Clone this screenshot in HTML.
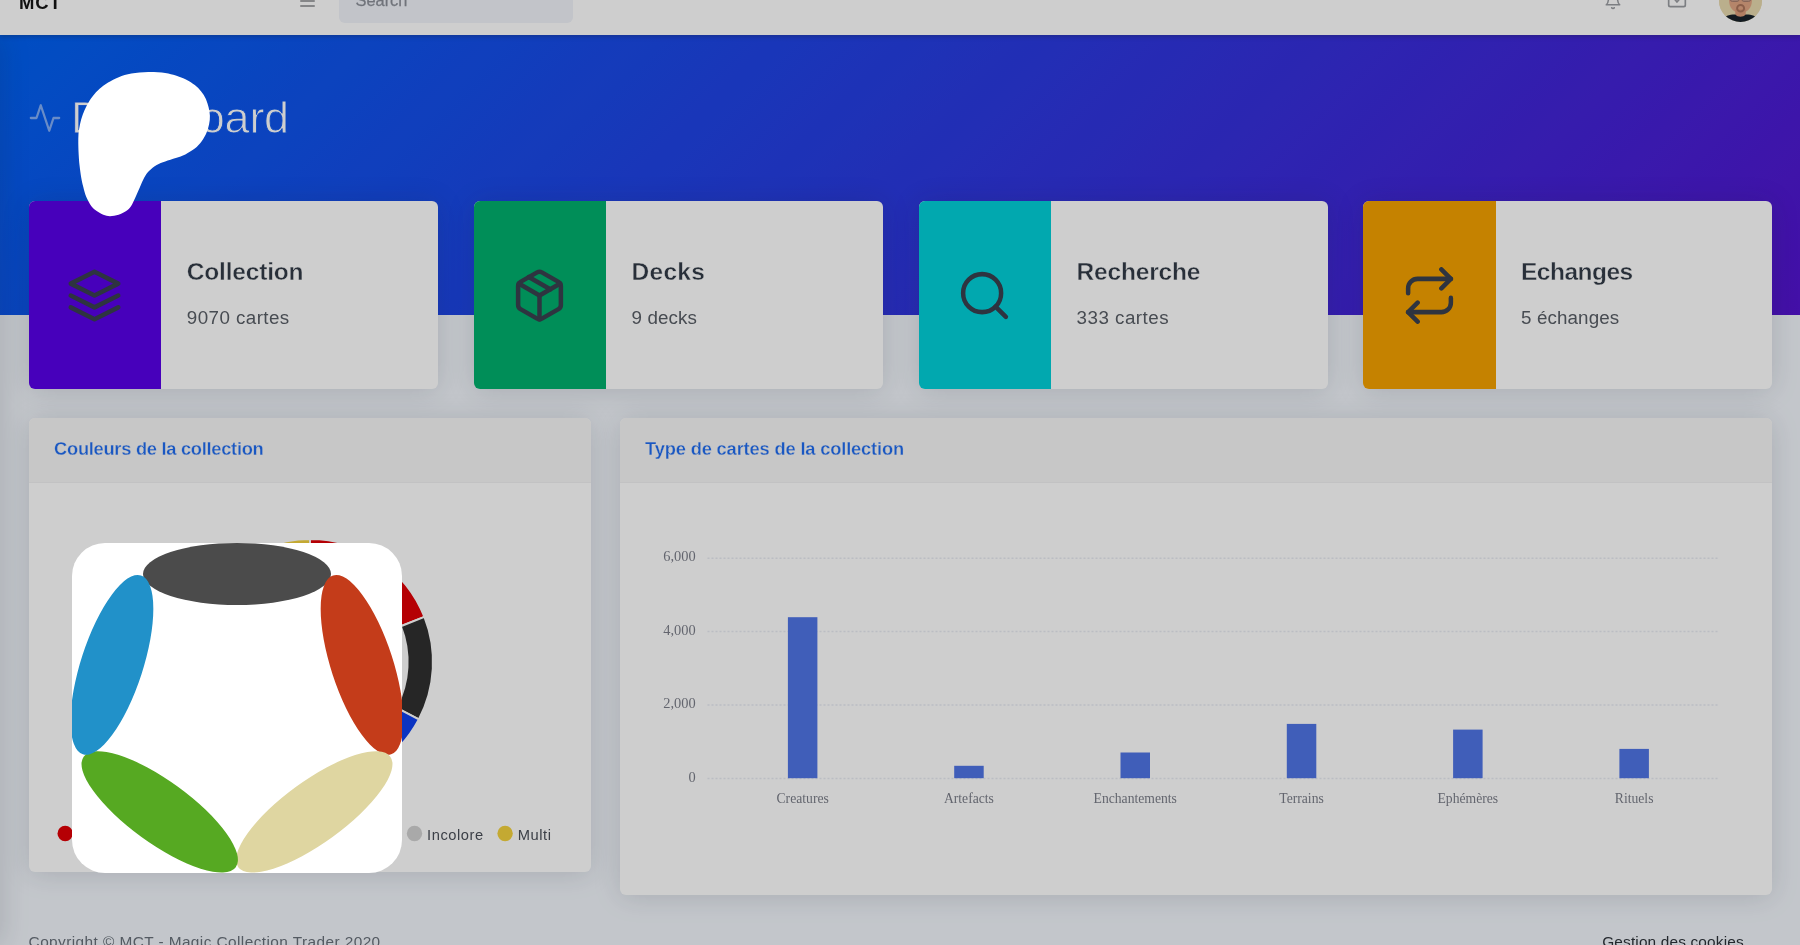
<!DOCTYPE html>
<html lang="fr">
<head>
<meta charset="utf-8">
<title>MCT - Dashboard</title>
<style>
*{box-sizing:border-box;margin:0;padding:0}
html,body{width:1800px;height:945px;overflow:hidden}
body{font-family:"Liberation Sans",sans-serif;background:#f2f6fc;color:#69707a;position:relative}
#page{will-change:transform;position:absolute;left:0;top:0;width:1800px;height:945px;overflow:hidden;background:#f2f6fc}
/* ---------- top nav ---------- */
.topnav{position:absolute;left:0;top:-23px;width:1800px;height:58.4px;background:#fff;box-shadow:0 2px 4px rgba(33,40,50,.25);z-index:3}
.brand{position:absolute;left:19px;top:14.6px;font-weight:700;font-size:18.5px;line-height:21px;color:#161616;letter-spacing:.9px}
.burger{position:absolute;left:299.7px;top:17.6px;width:15.3px;height:12px}
.burger i{position:absolute;left:0;width:15.3px;height:2px;background:#a5a6a9;border-radius:1px}
.search{position:absolute;left:339px;top:0;width:234px;height:45.6px;border-radius:6px;background:#f0f3f9}
.search span{position:absolute;left:16.5px;top:13.9px;font-size:16.4px;line-height:19px;color:#8b8f98;-webkit-text-stroke:.25px #8b8f98}
.navicon{position:absolute}
.avatar{position:absolute;left:1719.3px;top:2.4px;width:43px;height:43px;border-radius:50%;overflow:hidden;background:#e9dcb5}
.sideshadow{position:absolute;left:-30px;top:35px;width:30px;height:910px;box-shadow:2.4px 0 28px rgba(33,40,50,.15);z-index:2}
/* ---------- header ---------- */
.header{position:absolute;left:0;top:35px;width:1800px;height:280px;background:#0061f2 linear-gradient(135deg,#0061f2 0%,rgba(105,0,199,.8) 100%)}
.title{position:absolute;left:71px;top:91.5px;font-size:45px;letter-spacing:-.25px;-webkit-text-stroke:.9px rgb(11,87,238);line-height:52px;color:#fff;font-weight:400;white-space:nowrap}
.title-ico{position:absolute;left:28.4px;top:100.7px}
/* ---------- stat cards ---------- */
.stat{position:absolute;top:201px;width:409px;height:188px;border-radius:6px;background:#fff;box-shadow:0 2px 28px rgba(33,40,50,.15);overflow:hidden}
.stat .ico{position:absolute;left:0;top:0;width:132px;height:188px;display:flex;align-items:center;justify-content:center}
.stat h5{position:absolute;left:158px;top:55.9px;font-size:24.5px;line-height:30px;font-weight:700;color:#323b47;white-space:nowrap;-webkit-text-stroke:.4px #fff}
.stat p{position:absolute;left:158px;top:105.5px;font-size:18.8px;line-height:22px;color:#595e66;white-space:nowrap}
/* ---------- cards ---------- */
.card{position:absolute;border-radius:6px;background:#fff;box-shadow:0 2px 28px rgba(33,40,50,.15);overflow:hidden}
.card .hd{position:absolute;left:0;top:0;right:0;height:65.6px;background:#f7f7f7;border-bottom:1px solid #f1f1f2}
.card .hd span{position:absolute;left:25.3px;top:20.6px;font-size:18.3px;letter-spacing:-.28px;line-height:22px;font-weight:700;color:#1f6cf0;white-space:nowrap;-webkit-text-stroke:.3px #f7f7f7}
.foot{position:absolute;top:934.4px;font-size:15.4px;line-height:16px;white-space:nowrap}
/* ---------- overlay ---------- */
#dim{position:absolute;left:0;top:0;width:1800px;height:945px;background:rgba(0,0,0,.193);z-index:10}
#blob{position:absolute;left:0;top:0;z-index:11}
#logo{position:absolute;left:72px;top:543px;width:330px;height:330px;border-radius:33px;background:#fff;overflow:hidden;z-index:12}
</style>
</head>
<body>
<div id="page">

  <div class="header"></div>

  <div class="sideshadow"></div>

  <div class="topnav">
    <div class="brand">MCT</div>
    <div class="burger"><i style="top:0"></i><i style="top:5px"></i><i style="top:10px"></i></div>
    <div class="search"><span>Search</span></div>
    <svg class="navicon" style="left:1603.5px;top:15px" width="18" height="18" viewBox="0 0 24 24" fill="none" stroke="#9a9da2" stroke-width="2" stroke-linecap="round" stroke-linejoin="round"><path d="M18 8A6 6 0 0 0 6 8c0 7-3 9-3 9h18s-3-2-3-9"/><path d="M13.73 21a2 2 0 0 1-3.46 0"/></svg>
    <svg class="navicon" style="left:1667px;top:13.2px" width="20" height="20" viewBox="0 0 24 24" fill="none" stroke="#9a9da2" stroke-width="2" stroke-linecap="round" stroke-linejoin="round"><path d="M4 4h16c1.1 0 2 .9 2 2v12c0 1.1-.9 2-2 2H4c-1.1 0-2-.9-2-2V6c0-1.1.9-2 2-2z"/><polyline points="20,5 12,14.4 4,5"/></svg>
    <div class="avatar"><svg width="43" height="43" viewBox="0 0 43 43" style="filter:blur(.4px)">
      <rect width="43" height="43" fill="#e7d9ae"/>
      <path d="M10 0 L10 21 C10 29 15 34 21.5 34 C28 34 33 29 33 21 L33 0 Z" fill="#e1a584"/>
      <rect x="16.3" y="30" width="10.4" height="9" fill="#dc9c7a"/>
      <path d="M3 43 C5 36.5 11 35.5 16.3 35.6 C19 38.6 24 38.6 26.7 35.6 C32 35.5 38 36.5 40 43 Z" fill="#18222a"/>
      <rect x="11.3" y="13" width="8.8" height="9.4" rx="2" fill="#c9a08f" stroke="#a27b6b" stroke-width="1"/>
      <rect x="22.9" y="13" width="8.8" height="9.4" rx="2" fill="#c9a08f" stroke="#a27b6b" stroke-width="1"/>
      <ellipse cx="21.6" cy="29.3" rx="3.5" ry="3.3" fill="none" stroke="#ab755b" stroke-width="2"/>
      <path d="M8 8 C10 -2 33 -2 35 8 C30 3 13 3 8 8Z" fill="#3a2a22"/>
    </svg></div>
  </div>

  <svg class="title-ico" width="34" height="34" viewBox="0 0 24 24" fill="none" stroke="rgba(255,255,255,.5)" stroke-width="1.6" stroke-linecap="round" stroke-linejoin="round"><polyline points="22 12 18 12 15 21 9 3 6 12 2 12"/></svg>
  <div class="title">Dashboard</div>

  <div class="stat" style="left:28.8px">
    <div class="ico" style="background:#5800e8"><svg width="57" height="57" viewBox="0 0 24 24" fill="none" stroke="#394150" stroke-width="1.9" stroke-linecap="round" stroke-linejoin="round"><polygon points="12 2 2 7 12 12 22 7 12 2"/><polyline points="2 17 12 22 22 17"/><polyline points="2 12 12 17 22 12"/></svg></div>
    <h5 style="letter-spacing:-.19px">Collection</h5><p style="letter-spacing:.43px">9070 cartes</p>
  </div>
  <div class="stat" style="left:473.6px">
    <div class="ico" style="background:#01b06d;width:132.8px"><svg width="57" height="57" viewBox="0 0 24 24" fill="none" stroke="#394150" stroke-width="1.9" stroke-linecap="round" stroke-linejoin="round"><line x1="16.5" y1="9.4" x2="7.5" y2="4.21"/><path d="M21 16V8a2 2 0 0 0-1-1.73l-7-4a2 2 0 0 0-2 0l-7 4A2 2 0 0 0 3 8v8a2 2 0 0 0 1 1.73l7 4a2 2 0 0 0 2 0l7-4A2 2 0 0 0 21 16z"/><polyline points="3.27 6.96 12 12.01 20.73 6.96"/><line x1="12" y1="22.08" x2="12" y2="12"/></svg></div>
    <h5 style="letter-spacing:.27px">Decks</h5><p style="letter-spacing:.1px">9 decks</p>
  </div>
  <div class="stat" style="left:918.6px">
    <div class="ico" style="background:#02d1d9"><svg width="57" height="57" viewBox="0 0 24 24" fill="none" stroke="#394150" stroke-width="1.9" stroke-linecap="round" stroke-linejoin="round"><circle cx="11" cy="11" r="8"/><line x1="21" y1="21" x2="16.65" y2="16.65"/></svg></div>
    <h5 style="letter-spacing:-.19px">Recherche</h5><p style="letter-spacing:.47px">333 cartes</p>
  </div>
  <div class="stat" style="left:1363px">
    <div class="ico" style="background:#f4a100;width:133.2px"><svg width="57" height="57" viewBox="0 0 24 24" fill="none" stroke="#394150" stroke-width="1.9" stroke-linecap="round" stroke-linejoin="round"><polyline points="17 1 21 5 17 9"/><path d="M3 11V9a4 4 0 0 1 4-4h14"/><polyline points="7 23 3 19 7 15"/><path d="M21 13v2a4 4 0 0 1-4 4H3"/></svg></div>
    <h5 style="letter-spacing:-.5px">Echanges</h5><p style="letter-spacing:.12px">5 échanges</p>
  </div>

  <div class="card" style="left:28.8px;top:417.7px;width:562.2px;height:454px">
    <div class="hd"><span>Couleurs de la collection</span></div>
    <svg style="position:absolute;left:0;top:0;filter:blur(.3px)" width="562" height="453" viewBox="0 0 562 453"><path d="M281.00 121.00 A123 123 0 0 1 395.44 198.92 L371.81 208.23 A97.6 97.6 0 0 0 281.00 146.40 Z" fill="#e00005" stroke="#fff" stroke-width="2" stroke-linejoin="round"/><path d="M395.44 198.92 A123 123 0 0 1 389.80 301.37 L367.34 289.52 A97.6 97.6 0 0 0 371.81 208.23 Z" fill="#303030" stroke="#fff" stroke-width="2" stroke-linejoin="round"/><path d="M389.80 301.37 A123 123 0 0 1 270.28 366.53 L272.49 341.23 A97.6 97.6 0 0 0 367.34 289.52 Z" fill="#0e41f0" stroke="#fff" stroke-width="2" stroke-linejoin="round"/><path d="M270.28 366.53 A123 123 0 0 1 165.42 286.07 L189.29 277.38 A97.6 97.6 0 0 0 272.49 341.23 Z" fill="#1f9d3a" stroke="#fff" stroke-width="2" stroke-linejoin="round"/><path d="M165.42 286.07 A123 123 0 0 1 174.48 182.50 L196.48 195.20 A97.6 97.6 0 0 0 189.29 277.38 Z" fill="#f3efe0" stroke="#fff" stroke-width="2" stroke-linejoin="round"/><path d="M174.48 182.50 A123 123 0 0 1 234.92 129.96 L244.44 153.51 A97.6 97.6 0 0 0 196.48 195.20 Z" fill="#d2d2d2" stroke="#fff" stroke-width="2" stroke-linejoin="round"/><path d="M234.92 129.96 A123 123 0 0 1 281.00 121.00 L281.00 146.40 A97.6 97.6 0 0 0 244.44 153.51 Z" fill="#f3d23e" stroke="#fff" stroke-width="2" stroke-linejoin="round"/><circle cx="36.2" cy="415.5" r="7.7" fill="#e00005"/><text x="47.6" y="421.8" font-family="Liberation Sans, sans-serif" font-size="14.7" letter-spacing=".55" fill="#4a4f58">Rouge</text><circle cx="385.5" cy="415.5" r="7.7" fill="#d2d2d2"/><text x="398.1" y="421.8" font-family="Liberation Sans, sans-serif" font-size="14.7" letter-spacing=".55" fill="#4a4f58">Incolore</text><circle cx="476.1" cy="415.5" r="7.7" fill="#f3d23e"/><text x="488.7" y="421.8" font-family="Liberation Sans, sans-serif" font-size="14.7" letter-spacing=".55" fill="#4a4f58">Multi</text></svg>
  </div>

  <div class="card" style="left:619.8px;top:417.7px;width:1152.6px;height:477px">
    <div class="hd"><span style="letter-spacing:-.16px">Type de cartes de la collection</span></div>
    <svg style="position:absolute;left:0;top:0;filter:blur(.6px)" width="1152" height="477" viewBox="0 0 1152 477"><line x1="87.5" y1="140.2" x2="1098.5" y2="140.2" stroke="#e8eaf2" stroke-width="1.5" stroke-dasharray="2 2"/><line x1="87.5" y1="213.5" x2="1098.5" y2="213.5" stroke="#e8eaf2" stroke-width="1.5" stroke-dasharray="2 2"/><line x1="87.5" y1="287.1" x2="1098.5" y2="287.1" stroke="#e8eaf2" stroke-width="1.5" stroke-dasharray="2 2"/><line x1="87.5" y1="360.6" x2="1098.5" y2="360.6" stroke="#e8eaf2" stroke-width="1.5" stroke-dasharray="2 2"/><rect x="167.90" y="199.20" width="29.5" height="161.00" fill="#5075e6"/><text x="182.65" y="384.60" text-anchor="middle" font-family="Liberation Serif, serif" font-size="13.65" fill="#7b7e89">Creatures</text><rect x="334.20" y="347.80" width="29.5" height="12.40" fill="#5075e6"/><text x="348.95" y="384.60" text-anchor="middle" font-family="Liberation Serif, serif" font-size="13.65" fill="#7b7e89">Artefacts</text><rect x="500.50" y="334.50" width="29.5" height="25.70" fill="#5075e6"/><text x="515.25" y="384.60" text-anchor="middle" font-family="Liberation Serif, serif" font-size="13.65" fill="#7b7e89">Enchantements</text><rect x="666.80" y="305.90" width="29.5" height="54.30" fill="#5075e6"/><text x="681.55" y="384.60" text-anchor="middle" font-family="Liberation Serif, serif" font-size="13.65" fill="#7b7e89">Terrains</text><rect x="833.10" y="311.60" width="29.5" height="48.60" fill="#5075e6"/><text x="847.85" y="384.60" text-anchor="middle" font-family="Liberation Serif, serif" font-size="13.65" fill="#7b7e89">Ephémères</text><rect x="999.40" y="330.90" width="29.5" height="29.30" fill="#5075e6"/><text x="1014.15" y="384.60" text-anchor="middle" font-family="Liberation Serif, serif" font-size="13.65" fill="#7b7e89">Rituels</text><text x="75.70" y="143.40" text-anchor="end" font-family="Liberation Serif, serif" font-size="14.4" fill="#7b7e89">6,000</text><text x="75.70" y="216.70" text-anchor="end" font-family="Liberation Serif, serif" font-size="14.4" fill="#7b7e89">4,000</text><text x="75.70" y="290.30" text-anchor="end" font-family="Liberation Serif, serif" font-size="14.4" fill="#7b7e89">2,000</text><text x="75.70" y="363.80" text-anchor="end" font-family="Liberation Serif, serif" font-size="14.4" fill="#7b7e89">0</text></svg>
  </div>

  <div class="foot" style="left:28.6px;color:#69707a;letter-spacing:.42px">Copyright © MCT - Magic Collection Trader 2020</div>
  <div class="foot" style="right:56.2px;color:#2c3138;letter-spacing:.16px">Gestion des cookies</div>

  <div id="dim"></div>

  <svg id="blob" width="1800" height="945" viewBox="0 0 1800 945"><path fill="#fff" d="M148.3 71.9C153.9 71.8 160.6 72.3 165.2 72.9C169.8 73.5 172.3 74.4 175.8 75.6C179.3 76.8 183.2 78.2 186.4 79.8C189.6 81.4 192.3 83.2 194.8 85.1C197.3 87.0 199.3 89.1 201.2 91.4C203.0 93.7 204.7 96.2 205.9 98.9C207.1 101.6 207.9 104.5 208.6 107.3C209.3 110.1 209.8 113.0 209.9 115.8C210.0 118.6 209.7 121.4 209.1 124.2C208.5 127.0 207.7 129.9 206.5 132.7C205.3 135.5 203.6 138.5 201.7 141.2C199.8 143.8 197.5 146.4 194.8 148.6C192.1 150.8 188.5 152.8 185.3 154.4C182.1 156.0 179.2 156.9 175.8 158.1C172.5 159.3 168.4 160.3 165.2 161.5C162.0 162.7 159.4 163.4 156.7 165.0C154.0 166.6 151.1 168.9 149.0 171.0C146.9 173.1 145.8 174.9 144.3 177.6C142.8 180.3 141.4 183.9 140.0 187.1C138.6 190.3 137.2 193.5 135.7 196.7C134.2 199.9 132.6 203.8 131.0 206.2C129.4 208.6 128.3 209.6 126.2 211.0C124.1 212.4 121.3 213.9 118.6 214.8C115.9 215.7 112.5 216.2 110.0 216.2C107.5 216.2 105.5 215.7 103.3 214.8C101.1 213.9 98.7 212.4 96.7 211.0C94.7 209.6 93.2 208.6 91.4 206.2C89.7 203.8 87.6 199.9 86.2 196.7C84.8 193.5 84.1 190.3 83.3 187.1C82.5 183.9 81.8 181.3 81.2 177.6C80.6 173.9 79.9 168.8 79.5 165.0C79.1 161.2 78.9 158.3 78.7 154.9C78.5 151.5 78.3 147.8 78.3 144.3C78.3 140.8 78.2 137.2 78.5 133.8C78.8 130.5 79.3 127.4 80.0 124.2C80.7 121.0 81.5 117.9 82.7 114.7C83.9 111.5 85.2 108.3 86.9 105.2C88.6 102.1 90.6 98.9 92.7 96.2C94.8 93.5 97.0 91.1 99.6 88.8C102.2 86.5 104.9 84.4 108.1 82.5C111.3 80.6 114.8 78.7 118.7 77.2C122.6 75.7 126.5 74.4 131.4 73.5C136.3 72.6 142.7 72.0 148.3 71.9Z"/></svg>

  <div id="logo">
    <svg width="330" height="330" viewBox="0 0 330 330">
      <g transform="translate(165 162.5)">
        <ellipse cx="0" cy="-131.5" rx="94" ry="31" fill="#4b4b4b"/>
        <ellipse cx="0" cy="-131.5" rx="94" ry="31" fill="#c43c1a" transform="rotate(72)"/>
        <ellipse cx="0" cy="-131.5" rx="94" ry="31" fill="#dfd6a1" transform="rotate(144)"/>
        <ellipse cx="0" cy="-131.5" rx="94" ry="31" fill="#56a922" transform="rotate(216)"/>
        <ellipse cx="0" cy="-131.5" rx="94" ry="31" fill="#2191c9" transform="rotate(288)"/>
      </g>
    </svg>
  </div>
</div>
</body>
</html>
